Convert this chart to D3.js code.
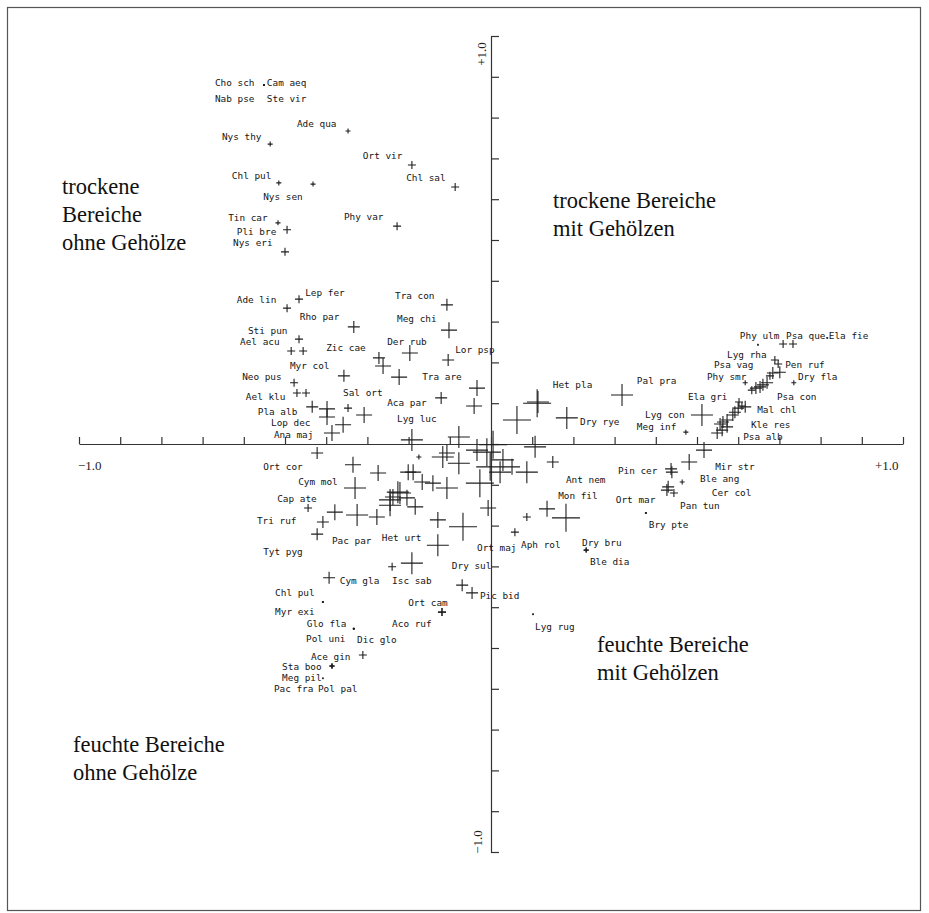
<!DOCTYPE html>
<html>
<head>
<meta charset="utf-8">
<script src="https://cdn.jsdelivr.net/npm/d3@7"></script>
<style>
  html, body { margin: 0; padding: 0; background: #fff; }
  svg { display: block; }
</style>
</head>
<body>
<svg id="chart" width="929" height="913"></svg>
<script>
// Species scores on the first two ordination axes (species codes)
const speciesNames = [
  "Cho sch","Cam aeq","Nab pse","Ste vir","Ade qua","Nys thy","Ort vir","Chl pul","Nys sen","Chl sal",
  "Tin car","Pli bre","Nys eri","Phy var","Ade lin","Lep fer","Tra con","Rho par","Meg chi","Sti pun",
  "Ael acu","Zic cae","Der rub","Lor psp","Myr col","Neo pus","Tra are","Ael klu","Sal ort","Aca par",
  "Pla alb","Lop dec","Ana maj","Lyg luc","Ort cor","Cym mol","Cap ate","Tri ruf","Pac par","Het urt",
  "Tyt pyg","Ort maj","Dry sul","Cym gla","Isc sab","Chl pul","Myr exi","Glo fla","Ort cam","Aco ruf",
  "Pol uni","Dic glo","Ace gin","Sta boo","Meg pil","Pac fra","Pol pal","Pic bid","Lyg rug","Aph rol",
  "Ant nem","Mon fil","Dry bru","Ble dia","Pin cer","Ort mar","Bry pte","Mir str","Ble ang","Cer col",
  "Pan tun","Het pla","Pal pra","Dry rye","Lyg con","Meg inf","Ela gri","Phy ulm","Psa que","Ela fie",
  "Lyg rha","Psa vag","Pen ruf","Phy smr","Dry fla","Psa con","Mal chl","Kle res","Psa alb"
];
const speciesAxis1 = [
  -0.551,-0.551,-0.551,-0.551,-0.347,-0.536,-0.192,-0.515,-0.432,-0.087,
  -0.517,-0.495,-0.500,-0.228,-0.495,-0.466,-0.107,-0.333,-0.102,-0.466,
  -0.485,-0.272,-0.197,-0.104,-0.357,-0.478,-0.223,-0.471,-0.347,-0.121,
  -0.434,-0.398,-0.386,-0.192,-0.335,-0.330,-0.444,-0.408,-0.325,-0.129,
  -0.379,0.058,-0.192,-0.393,-0.240,-0.408,-0.408,-0.333,-0.119,-0.119,
  -0.333,-0.333,-0.311,-0.386,-0.408,-0.386,-0.386,-0.046,0.102,0.087,
  0.150,0.136,0.231,0.231,0.437,0.376,0.376,0.517,0.464,0.444,
  0.427,0.114,0.318,0.184,0.512,0.473,0.602,0.648,0.709,0.816,
  0.689,0.697,0.701,0.617,0.735,0.670,0.617,0.573,0.549
];
const speciesAxis2 = [
  0.880,0.880,0.880,0.880,0.767,0.735,0.684,0.640,0.637,0.630,
  0.542,0.525,0.471,0.534,0.333,0.355,0.341,0.287,0.279,0.257,
  0.228,0.211,0.223,0.206,0.167,0.150,0.164,0.125,0.088,0.113,
  0.091,0.066,0.027,0.010,-0.051,-0.108,-0.157,-0.191,-0.174,-0.248,
  -0.167,-0.216,-0.292,-0.328,-0.301,-0.387,-0.387,-0.453,-0.412,-0.412,
  -0.453,-0.453,-0.517,-0.544,-0.574,-0.544,-0.544,-0.365,-0.417,-0.179,
  -0.044,-0.159,-0.260,-0.260,-0.061,-0.169,-0.169,-0.015,-0.093,-0.120,
  -0.113,0.103,0.120,0.064,0.071,0.029,0.103,0.243,0.245,0.260,
  0.206,0.196,0.176,0.150,0.150,0.150,0.091,0.042,0.027
];
// abundance class (1 = rare ... 7 = dominant)
const speciesClass = [
  1,1,1,1,2,2,3,2,2,3,
  2,3,3,3,3,3,4,4,5,3,
  3,4,5,4,4,3,5,3,3,4,
  4,5,5,6,5,6,3,4,6,6,
  5,3,6,4,3,1,1,1,3,3,
  1,1,3,2,1,2,2,4,1,3,
  4,5,2,2,4,1,1,5,2,3,
  4,6,6,6,6,2,3,1,3,1,
  3,3,4,2,2,4,4,4,4
];
// where each species code is written, in axis units
const labelAxis1 = [
  -0.670,-0.544,-0.670,-0.544,-0.471,-0.653,-0.311,-0.629,-0.553,-0.206,
  -0.638,-0.617,-0.626,-0.357,-0.617,-0.451,-0.233,-0.464,-0.228,-0.590,
  -0.609,-0.400,-0.252,-0.087,-0.488,-0.604,-0.167,-0.595,-0.359,-0.252,
  -0.566,-0.534,-0.527,-0.228,-0.553,-0.468,-0.519,-0.568,-0.386,-0.265,
  -0.553,-0.034,-0.095,-0.367,-0.240,-0.524,-0.524,-0.447,-0.201,-0.240,
  -0.449,-0.325,-0.437,-0.507,-0.507,-0.527,-0.420,-0.027,0.107,0.073,
  0.182,0.163,0.221,0.240,0.308,0.303,0.383,0.544,0.507,0.536,
  0.459,0.150,0.354,0.216,0.374,0.354,0.478,0.604,0.716,0.820,
  0.573,0.541,0.714,0.524,0.745,0.694,0.646,0.631,0.612
];
const labelAxis2 = [
  0.885,0.885,0.846,0.846,0.784,0.752,0.706,0.657,0.605,0.652,
  0.554,0.520,0.493,0.556,0.353,0.370,0.363,0.311,0.306,0.277,
  0.250,0.235,0.250,0.230,0.191,0.164,0.164,0.115,0.125,0.100,
  0.078,0.051,0.022,0.061,-0.056,-0.093,-0.135,-0.189,-0.238,-0.230,
  -0.265,-0.255,-0.299,-0.336,-0.336,-0.365,-0.412,-0.441,-0.390,-0.441,
  -0.478,-0.480,-0.522,-0.547,-0.574,-0.600,-0.600,-0.373,-0.449,-0.248,
  -0.088,-0.127,-0.243,-0.289,-0.066,-0.137,-0.199,-0.056,-0.086,-0.120,
  -0.152,0.145,0.154,0.054,0.071,0.042,0.115,0.265,0.265,0.265,
  0.218,0.194,0.194,0.164,0.164,0.115,0.083,0.047,0.017
];

// species plotted without a code (crowded centre and right-hand cluster)
const otherAxis1 = [
  -0.456,-0.262,-0.449,-0.034,-0.041,-0.398,-0.308,-0.359,-0.078,-0.422,
  -0.422,-0.070,0.182,0.733,0.481,0.439,0.430,0.684,0.677,0.660,
  0.653,0.643,0.633,0.609,0.600,0.592,0.587,0.573,0.563,0.556,
  0.561,0.112,0.063,-0.117,-0.175,-0.078,-0.010,0.005,-0.002,0.022,
  0.087,0.107,-0.201,-0.167,-0.226,-0.245,-0.027,-0.007,-0.068,-0.129,
  -0.274,-0.221,-0.238,-0.245,-0.204,-0.184,-0.277,-0.141,-0.107,-0.034,
  0.029,0.051,-0.107,-0.189
];
const otherAxis2 = [
  0.228,0.191,0.125,0.137,0.093,0.086,0.071,0.047,0.017,-0.022,
  -0.221,-0.346,-0.181,0.245,-0.044,-0.069,-0.105,0.174,0.167,0.145,
  0.140,0.137,0.132,0.093,0.088,0.078,0.071,0.059,0.054,0.049,
  0.034,0.100,0.059,-0.032,-0.032,-0.047,-0.020,-0.002,-0.056,-0.069,
  -0.069,-0.007,-0.069,-0.093,-0.118,-0.137,-0.096,-0.157,-0.203,-0.186,
  -0.071,-0.120,-0.130,-0.150,-0.132,-0.154,-0.179,-0.096,-0.108,-0.015,
  -0.039,-0.056,-0.022,-0.069
];
const otherClass = [
  3,5,3,5,5,5,5,5,6,4,
  4,4,7,3,5,4,4,4,3,4,
  4,4,3,3,4,4,4,4,4,4,
  4,7,7,6,2,6,7,7,7,6,
  6,6,5,5,6,6,7,5,7,5,
  5,6,5,6,5,5,5,5,6,6,
  6,5,5,5
];

const axisTickValues = d3.range(-10, 11).map(i => i / 10);
const axisEndLabels = ["\u22121.0", "+1.0"];

const quadrantLines = [
  ["trockene", "Bereiche", "ohne Gehölze"],
  ["trockene Bereiche", "mit Gehölzen"],
  ["feuchte Bereiche", "mit Gehölzen"],
  ["feuchte Bereiche", "ohne Gehölze"]
];

// ---- drawing ----
const svg = d3.select("#chart");

const x = d3.scaleLinear().domain([-1, 1]).range([79, 903]);
const y = d3.scaleLinear().domain([-1, 1]).range([852, 36]);
const armLength = d3.scaleLinear()
  .domain([1, 2, 3, 4, 5, 6, 7])
  .range([1, 2.5, 4, 6, 8, 11, 14]);

// outer frame
svg.append("rect")
  .attr("x", 7.5).attr("y", 7.5)
  .attr("width", 913).attr("height", 903)
  .attr("fill", "none").attr("stroke", "#555").attr("stroke-width", 1.2);

// axes through the origin
const xAxis = d3.axisTop(x).tickValues(axisTickValues).tickSize(7).tickSizeOuter(0).tickFormat("");
const yAxis = d3.axisRight(y).tickValues(axisTickValues).tickSize(8).tickSizeOuter(0).tickFormat("");

const gx = svg.append("g").attr("transform", `translate(0,${y(0)})`).call(xAxis);
const gy = svg.append("g").attr("transform", `translate(${x(0)},0)`).call(yAxis);
[gx, gy].forEach(g => {
  g.selectAll("path, line").attr("stroke", "#333").attr("stroke-width", 1.2);
});

const endFont = "'Liberation Serif', 'Times New Roman', serif";
svg.append("text").attr("x", x(-1) - 1).attr("y", y(0) + 26)
  .attr("font-family", endFont).attr("font-size", 13).attr("fill", "#222")
  .text(axisEndLabels[0]);
svg.append("text").attr("x", x(1) - 28).attr("y", y(0) + 26)
  .attr("font-family", endFont).attr("font-size", 13).attr("fill", "#222")
  .text(axisEndLabels[1]);
svg.append("text")
  .attr("transform", `translate(${x(0) - 5},${y(1) + 18}) rotate(-90)`)
  .attr("text-anchor", "middle")
  .attr("font-family", endFont).attr("font-size", 13).attr("fill", "#222")
  .text(axisEndLabels[1]);
svg.append("text")
  .attr("transform", `translate(${x(0) - 9},${y(-1) - 10}) rotate(-90)`)
  .attr("text-anchor", "middle")
  .attr("font-family", endFont).attr("font-size", 13).attr("fill", "#222")
  .text(axisEndLabels[0]);

// plus-sign markers, arm length by abundance class
const crossPath = (cx, cy, h) =>
  `M${cx - h},${cy}H${cx + h}M${cx},${cy - h}V${cy + h}`;

const species = speciesNames.map((name, i) => ({
  name, a1: speciesAxis1[i], a2: speciesAxis2[i], cls: speciesClass[i],
  l1: labelAxis1[i], l2: labelAxis2[i]
}));
const others = otherAxis1.map((a1, i) => ({ a1, a2: otherAxis2[i], cls: otherClass[i] }));

const markers = svg.append("g")
  .attr("fill", "none").attr("stroke", "#1e1e1e").attr("stroke-width", 1.1);

markers.selectAll("path.other").data(others).join("path")
  .attr("class", "other")
  .attr("d", d => crossPath(x(d.a1), y(d.a2), armLength(d.cls)));

markers.selectAll("path.sp").data(species).join("path")
  .attr("class", "sp")
  .attr("d", d => crossPath(x(d.a1), y(d.a2), armLength(d.cls)));

// species codes
svg.append("g")
  .attr("font-family", "'DejaVu Sans Mono', monospace")
  .attr("font-size", 9.4).attr("fill", "#151515")
  .selectAll("text").data(species).join("text")
  .attr("x", d => x(d.l1))
  .attr("y", d => y(d.l2))
  .attr("dy", "0.35em")
  .text(d => d.name);

// habitat descriptions in the four quadrants
const quadrantAnchors = [
  { px: 62, py: 194 },
  { px: 553, py: 208 },
  { px: 597, py: 652 },
  { px: 73, py: 752 }
];
const qFont = "'Liberation Serif', 'Times New Roman', serif";
quadrantLines.forEach((lines, qi) => {
  const t = svg.append("text")
    .attr("font-family", qFont).attr("font-size", 22.5).attr("fill", "#111");
  lines.forEach((line, li) => {
    t.append("tspan")
      .attr("x", quadrantAnchors[qi].px)
      .attr("y", quadrantAnchors[qi].py + li * 28)
      .text(line);
  });
});
</script>
</body>
</html>
